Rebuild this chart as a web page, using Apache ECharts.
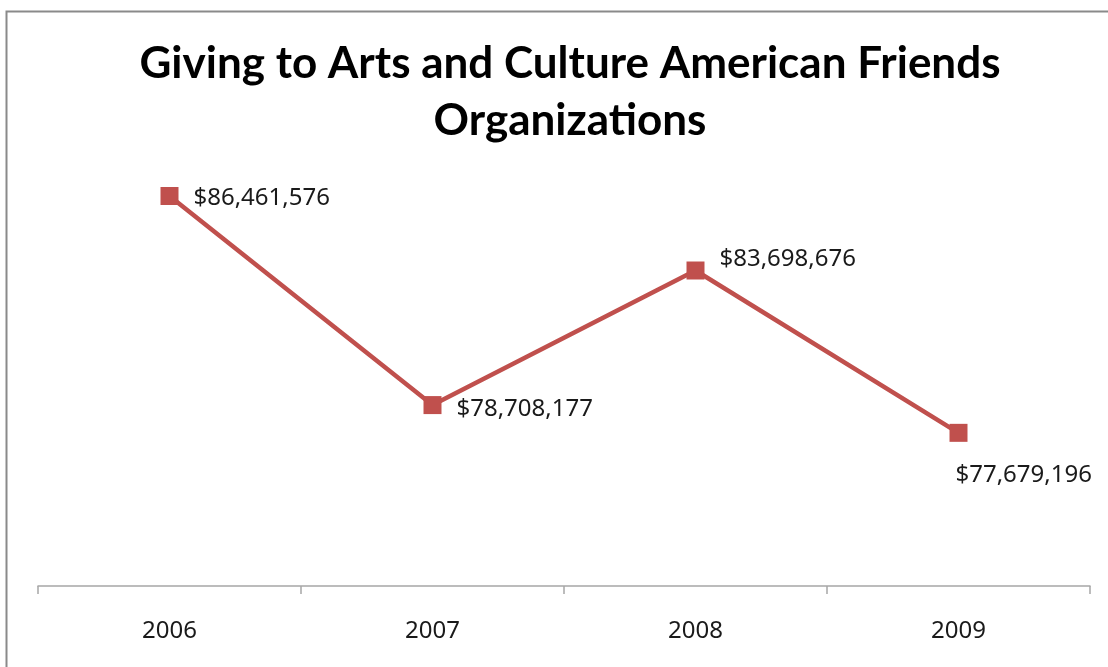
<!DOCTYPE html>
<html>
<head>
<meta charset="utf-8">
<script src="https://cdn.jsdelivr.net/npm/echarts@6/dist/echarts.min.js"></script>
<style>
  html, body { margin: 0; padding: 0; background: #fff; }
  #chart { width: 1108px; height: 667px; }
</style>
</head>
<body>
<div id="chart"></div>
<script>
// Years on the category axis
const years = ['2006', '2007', '2008', '2009'];
// Total giving per year, in dollars
const giving = [86461576, 78708177, 83698676, 77679196];
// Value-axis range (axis itself is hidden)
const valueMin = 72000000;
const valueMax = 88000000;

// Where each value label sits relative to its marker: [dx, dy]
const labelOffsets = [[0, 2], [0, 4], [0, -11], [-27, 42]];

function dollars(v) {
  return '$' + String(v).replace(/\B(?=(\d{3})+(?!\d))/g, ',');
}

const chart = echarts.init(document.getElementById('chart'));

chart.setOption({
  backgroundColor: '#ffffff',
  animation: false,
  title: {
    text: 'Giving to Arts and Culture American Friends\nOrganizations',
    left: 565,
    textAlign: 'center',
    top: 30,
    textStyle: {
      fontFamily: 'Lato',
      fontWeight: 'bold',
      fontSize: 44,
      lineHeight: 57,
      color: '#000000'
    }
  },
  graphic: [{
    type: 'rect',
    shape: { x: 6.5, y: 11.5, width: 1300, height: 800 },
    style: { fill: 'none', stroke: '#8a8a8a', lineWidth: 2 },
    silent: true,
    z: 100
  }],
  grid: { left: 38, right: 18, top: 154.5, bottom: 81 },
  xAxis: {
    type: 'category',
    data: years,
    boundaryGap: true,
    axisLine: { lineStyle: { color: '#a6a6a6', width: 1.5 } },
    axisTick: { show: true, length: 8, lineStyle: { color: '#a6a6a6', width: 1.5 } },
    axisLabel: {
      margin: 33,
      fontFamily: 'Noto Sans',
      fontSize: 24,
      color: '#1a1a1a'
    }
  },
  yAxis: {
    type: 'value',
    min: valueMin,
    max: valueMax,
    show: false,
    splitLine: { show: false }
  },
  series: [{
    type: 'line',
    data: giving.map((v, i) => ({
      value: v,
      label: { offset: labelOffsets[i] }
    })),
    symbol: 'rect',
    symbolSize: 18,
    lineStyle: { color: '#C0504D', width: 4.5 },
    itemStyle: { color: '#C0504D' },
    label: {
      show: true,
      position: 'right',
      distance: 15,
      formatter: p => dollars(p.value),
      fontFamily: 'Noto Sans',
      fontSize: 24,
      color: '#1a1a1a'
    }
  }]
});
</script>
</body>
</html>
